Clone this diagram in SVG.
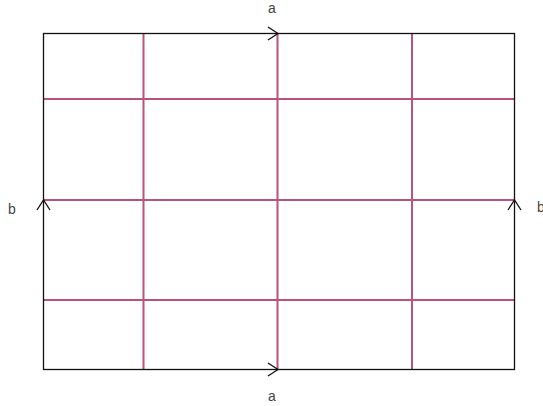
<svg xmlns="http://www.w3.org/2000/svg" width="543" height="406" viewBox="0 0 543 406">
<style>
.grid{stroke:#b9537d;stroke-width:2;fill:none}
.edge{stroke:#111;stroke-width:1.3;fill:none}
.arr{stroke:#111;stroke-width:1.3;fill:none}
.lbl{font-family:"Liberation Sans",Arial,sans-serif;font-size:14px;fill:#444;text-anchor:middle}
</style>
<rect width="543" height="406" fill="#fff"/>
<g id="grid">
<line class="grid" x1="143.5" y1="33" x2="143.5" y2="369"/>
<line class="grid" x1="277.5" y1="33" x2="277.5" y2="369"/>
<line class="grid" x1="412" y1="33" x2="412" y2="369"/>
<line class="grid" x1="43" y1="99" x2="514" y2="99"/>
<line class="grid" x1="43" y1="200" x2="514" y2="200"/>
<line class="grid" x1="43" y1="300" x2="514" y2="300"/>
</g>
<g id="connectors">
<rect class="edge" x="43.5" y="33.5" width="471" height="336"/>
<path class="arr" d="M268,27 L278,33.5 L268,40"/>
<path class="arr" d="M268,363 L278,369.5 L268,376"/>
<path class="arr" d="M37,210 L43.5,200 L50,210"/>
<path class="arr" d="M508,210 L514.5,200 L521,210"/>
</g>
<g id="labels">
<text class="lbl" x="272" y="13">a</text>
<text class="lbl" x="272" y="401">a</text>
<text class="lbl" x="12" y="214">b</text>
<text class="lbl" x="541" y="212">b</text>
</g>
</svg>
